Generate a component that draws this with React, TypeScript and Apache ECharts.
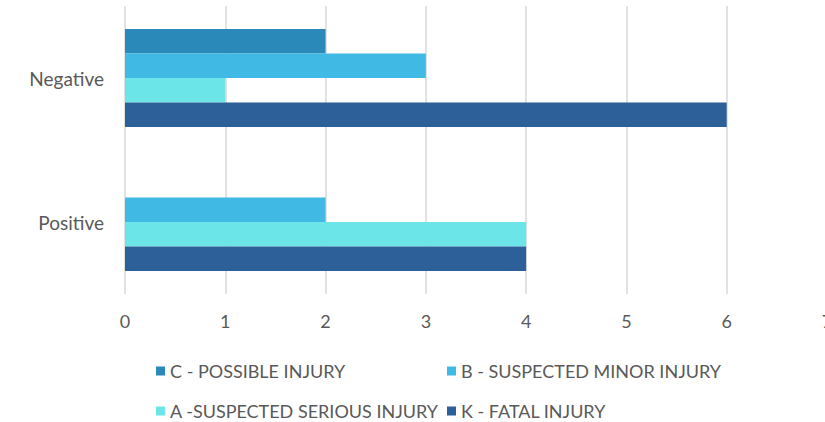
import React, { useEffect, useRef } from "react";
import * as echarts from "echarts";

const categories = ["Positive", "Negative"];
const seriesNames = [
  "C - POSSIBLE INJURY",
  "B - SUSPECTED MINOR INJURY",
  "A -SUSPECTED SERIOUS INJURY",
  "K - FATAL INJURY",
];
const possible = [0, 2];
const minor = [2, 3];
const serious = [4, 1];
const fatal = [4, 6];
const colors = ["#2B89B9", "#41B9E5", "#6BE5E8", "#2D5F98"];
const xTicks = [0, 1, 2, 3, 4, 5, 6, 7];

const FONT = "Lato";
const TEXT = "#595959";

export default function App() {
  const ref = useRef<HTMLDivElement>(null);
  useEffect(() => {
    if (!ref.current) return;
    const chart = echarts.init(ref.current, undefined, { renderer: "svg" });
    const values = [possible, minor, serious, fatal];
    const legendPos = [
      { left: 151, top: 357 },
      { left: 442, top: 357 },
      { left: 151, top: 397 },
      { left: 442, top: 397 },
    ];
    chart.setOption({
      animation: false,
      grid: {
        left: 125,
        width: 702,
        top: 6,
        height: 288,
        containLabel: false,
        outerBoundsMode: "none",
      },
      legend: seriesNames.map((n, i) => ({
        data: [n],
        left: legendPos[i].left,
        top: legendPos[i].top,
        icon: "rect",
        itemWidth: 9,
        itemHeight: 9,
        itemGap: 0,
        textStyle: { color: TEXT, fontFamily: FONT, fontSize: 18 },
        selectedMode: false,
      })),
      xAxis: {
        type: "value",
        min: xTicks[0],
        max: xTicks[xTicks.length - 1],
        interval: 1,
        axisLine: { show: false },
        axisTick: { show: false },
        splitLine: { show: true, lineStyle: { color: "#D9D9D9", width: 1.5 } },
        axisLabel: { color: TEXT, fontFamily: FONT, fontSize: 18, margin: 18 },
      },
      yAxis: {
        type: "category",
        data: categories,
        axisLine: { show: false },
        axisTick: { show: false },
        axisLabel: { color: TEXT, fontFamily: FONT, fontSize: 19, margin: 21 },
      },
      series: values.map((v, i) => ({
        type: "bar",
        name: seriesNames[i],
        data: v,
        itemStyle: { color: colors[i] },
        barGap: "0%",
        barCategoryGap: "32%",
      })),
    });
    return () => chart.dispose();
  }, []);
  return (
    <div
      ref={ref}
      style={{ position: "absolute", left: 0, top: 0, width: 825, height: 422 }}
    />
  );
}
